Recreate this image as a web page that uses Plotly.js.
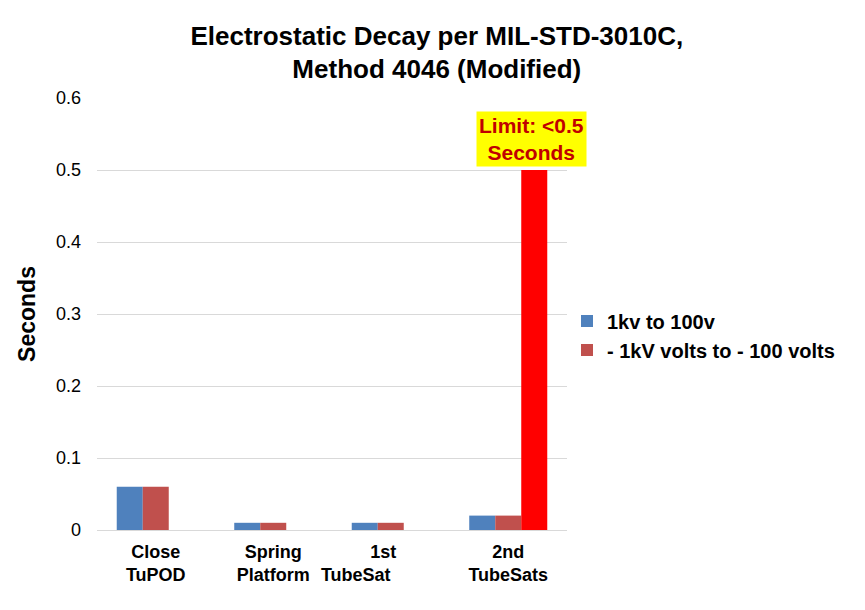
<!DOCTYPE html>
<html>
<head>
<meta charset="utf-8">
<script src="https://cdn.plot.ly/plotly-3.0.1.min.js"></script>
<style>
  html, body { margin: 0; padding: 0; background: #fff; }
  #chart { width: 865px; height: 610px; }
</style>
</head>
<body>
<div id="chart"></div>
<script>
// Данные
const categories = ["Close TuPOD", "Spring Platform", "1st TubeSat", "2nd TubeSats"];
// подписи как на картинке (у "1st TubeSat" строки сдвинуты влево)
const tickLabels = [
  "Close<br>TuPOD",
  "Spring<br>Platform",
  "1st\u00a0\u00a0\u00a0<br>TubeSat\u00a0\u00a0\u00a0\u00a0\u00a0\u00a0\u00a0\u00a0\u00a0\u00a0\u00a0\u00a0\u00a0\u00a0",
  "2nd<br>TubeSats",
];
const posValues = [0.06, 0.01, 0.01, 0.02];
const negValues = [0.06, 0.01, 0.01, 0.02];
const limitValues = [null, null, null, 0.5];
const seriesNames = ["1kv to 100v", "- 1kV volts to - 100 volts"];
const limitText = "Limit: <0.5<br>Seconds";

const FONT = "Liberation Sans, Arial, sans-serif";

const traces = [
  {
    type: "bar",
    x: categories,
    y: posValues,
    name: "<b>" + seriesNames[0] + "</b>",
    marker: { color: "#4F81BD" },
  },
  {
    type: "bar",
    x: categories,
    y: negValues,
    name: "<b>" + seriesNames[1] + "</b>",
    marker: { color: "#C0504D" },
  },
  {
    type: "bar",
    x: categories,
    y: limitValues,
    name: "Limit",
    showlegend: false,
    marker: { color: "#FF0000" },
  },
];

const layout = {
  width: 865,
  height: 610,
  margin: { l: 97, r: 298, t: 98, b: 80 },
  paper_bgcolor: "#fff",
  plot_bgcolor: "#fff",
  font: { family: FONT, color: "#000" },
  barmode: "group",
  bargap: 0.336,
  bargroupgap: 0,
  title: {
    text: "<b>Electrostatic Decay per MIL-STD-3010C,<br>Method 4046 (Modified)</b>",
    font: { family: FONT, size: 26, color: "#000" },
    xref: "container",
    x: 0.505,
    xanchor: "center",
    yref: "container",
    y: 0.927,
    yanchor: "middle",
  },
  xaxis: {
    type: "category",
    range: [-0.5, 3.5],
    tickmode: "array",
    tickvals: categories,
    ticktext: tickLabels.map((t) => "<b>" + t.replace("<br>", "</b><br><b>") + "</b>"),
    tickfont: { size: 18, family: FONT },
    ticklabelstandoff: 9,
    showline: false,
    ticks: "",
    showgrid: false,
  },
  yaxis: {
    range: [0, 0.6],
    dtick: 0.1,
    tick0: 0,
    showgrid: true,
    gridcolor: "#D9D9D9",
    zeroline: true,
    zerolinecolor: "#D9D9D9",
    showline: false,
    ticks: "",
    tickfont: { size: 18, family: FONT },
    ticklabelstandoff: 15,
    title: {
      text: "<b>Seconds</b>",
      font: { size: 23, family: FONT },
      standoff: 13,
    },
  },
  legend: {
    x: 1.0,
    xanchor: "left",
    y: 0.45,
    yanchor: "middle",
    font: { size: 20, family: FONT },
    itemwidth: 30,
  },
  annotations: [
    {
      xref: "x",
      yref: "y",
      x: categories[3],
      y: limitValues[3],
      xshift: 23,
      yanchor: "bottom",
      yshift: 3,
      text: "<b>" + limitText + "</b>",
      showarrow: false,
      bgcolor: "#FFFF00",
      borderpad: 2,
      font: { size: 21, family: FONT, color: "#C00000" },
    },
  ],
};

const config = { responsive: false, displayModeBar: false };

Plotly.newPlot("chart", traces, layout, config);
</script>
</body>
</html>
